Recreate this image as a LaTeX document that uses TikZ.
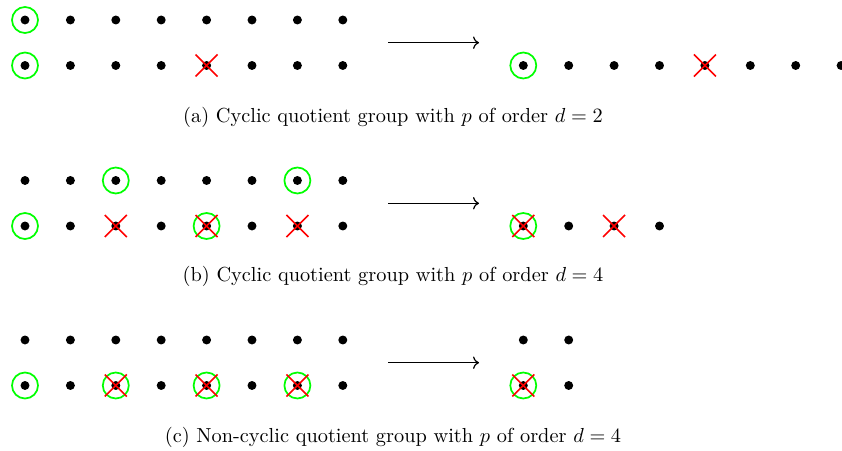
\documentclass[tikz,border=0pt]{standalone}
\usetikzlibrary{arrows.meta}
\begin{document}
\begin{tikzpicture}[x=0.492pt,y=-0.492pt,
  dot/.style={circle,fill=black,inner sep=0pt,minimum size=4.4pt},
  ring/.style={draw=green,line width=0.85pt},
  cross/.style={draw=red,line width=0.78pt},
  maparrow/.style={->,line width=0.6pt},
  caption/.style={inner sep=0pt,font=\normalsize}]
\useasboundingbox (0,0) rectangle (842,451);

% left lattices: two rows of eight points for each case
\foreach \r/\y in {a/20,b/180.5,c/340}{
  \foreach \i in {0,...,7}{
    \node[dot] (\r t\i) at ({25+45.4*\i},\y) {};
    \node[dot] (\r b\i) at ({25+45.4*\i},\y+45.5) {};
  }
}

% (a) image: a single row
\foreach \j in {0,...,7}{
  \node[dot] (ar\j) at ({523.3+45.4*\j},65.5) {};
}
% (b) image: four points
\foreach \j in {0,...,3}{
  \node[dot] (br\j) at ({523.3+45.4*\j},226) {};
}
% (c) image: a 2x2 block
\node[dot] (crt0) at (523.3,340) {};
\node[dot] (crt1) at (568.7,340) {};
\node[dot] (crb0) at (523.3,385.5) {};
\node[dot] (crb1) at (568.7,385.5) {};

% green rings
\foreach \n in {at0,ab0,ar0,bt2,bt6,bb0,bb4,br0,cb0,cb2,cb4,cb6,crb0}{
  \draw[ring] (\n) circle (13);
}
% red crosses
\foreach \n in {ab4,ar4,bb2,bb4,bb6,br0,br2,cb2,cb4,cb6,crb0}{
  \draw[cross] (\n) ++(-11,-11) -- ++(22,22);
  \draw[cross] (\n) ++(-11,11) -- ++(22,-22);
}

% arrows between lattice and image
\coordinate (aL) at (388,42.7);  \coordinate (aR) at (479,42.7);
\coordinate (bL) at (388,203.3); \coordinate (bR) at (479,203.3);
\coordinate (cL) at (388,362.7); \coordinate (cR) at (479,362.7);
\draw[maparrow] (aL) -- (aR);
\draw[maparrow] (bL) -- (bR);
\draw[maparrow] (cL) -- (cR);

% captions
\node[caption] (capa) at (393,117) {(a) Cyclic quotient group with $p$ of order $d=2$};
\node[caption] (capb) at (393,276) {(b) Cyclic quotient group with $p$ of order $d=4$};
\node[caption] (capc) at (393,437) {(c) Non-cyclic quotient group with $p$ of order $d=4$};
\end{tikzpicture}
\end{document}
